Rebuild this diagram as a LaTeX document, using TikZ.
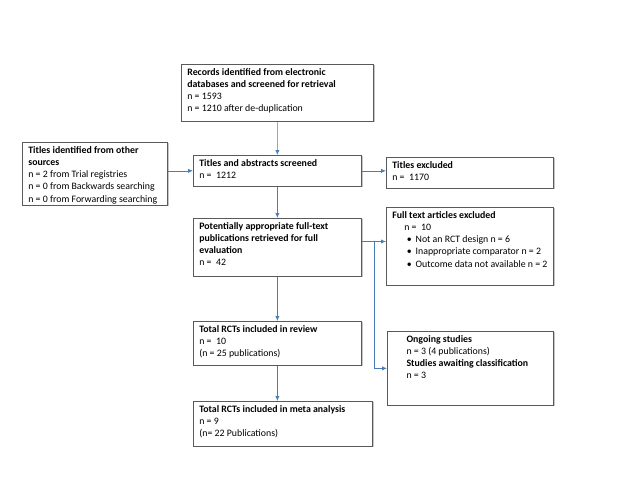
\documentclass[tikz,border=0pt]{standalone}
\usepackage{fontspec}
\setmainfont{Carlito}
\usetikzlibrary{arrows.meta,calc,shadows}
\definecolor{seta}{HTML}{4A7EBB}
\definecolor{borda}{HTML}{5A5A5A}

\begin{document}
\begin{tikzpicture}[x=0.025cm, y=-0.025cm, >={Latex[length=3.5pt,width=3pt]},
  box/.style 2 args={draw=borda, line width=0.5pt, fill=white, anchor=north west,
    drop shadow={shadow xshift=0.8pt, shadow yshift=-0.8pt, opacity=0.45},
    inner xsep=0.15cm, inner ysep=0.1cm, font=\fontsize{7}{8.7}\selectfont,
    execute at begin node={\begin{minipage}[c][#2][t]{#1}\raggedright},
    execute at end node={\end{minipage}}},
  flow/.style={->, seta, line width=0.5pt}]
  \useasboundingbox (0,0) rectangle (640,480);
  \node[box={4.5cm}{1.225cm}] (rec) at (181,64) {\textbf{Records identified from electronic}\\ \textbf{databases and screened for retrieval}\\ n = 1593\\ n = 1210 after de-duplication};
  \node[box={3.325cm}{1.375cm}] (other) at (22,142) {\textbf{Titles identified from other}\\ \textbf{sources}\\ n = 2 from Trial registries\\ n = 0 from Backwards searching\\ n = 0 from Forwarding searching};
  \node[box={3.9cm}{0.575cm}] (screen) at (193,155) {\textbf{Titles and abstracts screened}\\ n = \ 1212};
  \node[box={3.875cm}{0.575cm}] (titex) at (386,157) {\textbf{Titles excluded}\\ n = \ 1170};
  \node[box={3.9cm}{1.25cm}] (potent) at (193,218) {\textbf{Potentially appropriate full-text}\\ \textbf{publications retrieved for full}\\ \textbf{evaluation}\\ n = \ 42};
  \node[box={3.875cm}{1.75cm}] (ftex) at (386,207) {\textbf{Full text articles excluded}\\
    \hspace*{0.3cm}n = \ 10\\
    \mbox{\hspace*{0.36cm}\textbullet\hspace{0.1cm}Not an RCT design n = 6}\\
    \mbox{\hspace*{0.36cm}\textbullet\hspace{0.1cm}Inappropriate comparator n = 2}\\
    \mbox{\hspace*{0.36cm}\textbullet\hspace{0.1cm}Outcome data not available n = 2}};
  \node[box={3.9cm}{0.9cm}] (review) at (193,321) {\textbf{Total RCTs included in review}\\ n = \ 10\\ (n = 25 publications)};
  \node[box={3.85cm}{1.65cm}] (ongoing) at (387,331) {\hspace*{0.33cm}\textbf{Ongoing studies}\\
    \hspace*{0.33cm}n = 3 (4 publications)\\
    \hspace*{0.33cm}\textbf{Studies awaiting classification}\\
    \hspace*{0.33cm}n = 3};
  \node[box={4.175cm}{0.925cm}] (meta) at (193,401) {\textbf{Total RCTs included in meta analysis}\\ n = 9\\ (n= 22 Publications)};
  % setas
  \draw[flow] (rec.south) -- (screen.north);
  \draw[flow] (other.east |- screen.west) -- (screen.west);
  \draw[flow] (screen.east) -- (titex.west |- screen.east);
  \draw[flow] (screen.south) -- (potent.north);
  \coordinate (split) at ($(potent.north east)!0.4!(potent.south east)$);
  \coordinate (ramo) at ($(split)+(13,0)$);
  \draw[flow] (split) -- (split -| ftex.west);
  \draw[flow] (ramo) |- (ongoing.west);
  \draw[flow] (potent.south) -- (review.north);
  \draw[flow] (review.south) -- (review.south |- meta.north);
\end{tikzpicture}
\end{document}
